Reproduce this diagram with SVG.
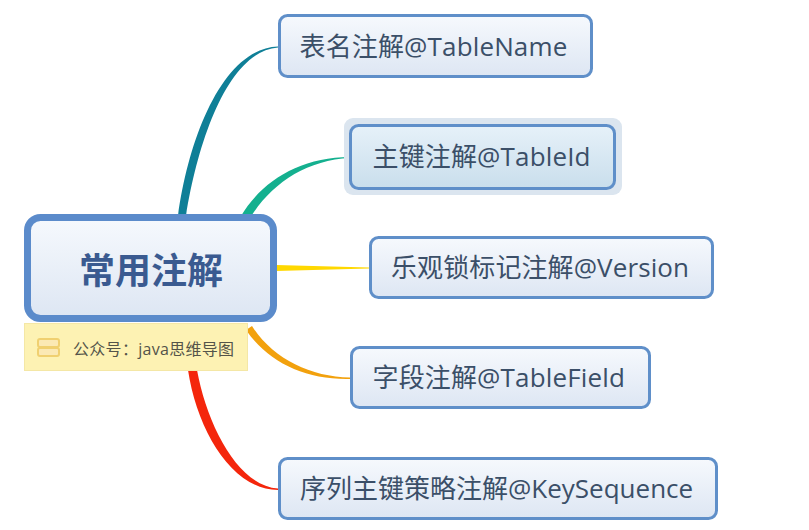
<svg xmlns="http://www.w3.org/2000/svg" width="809" height="530" viewBox="0 0 809 530">
<style>
text{font-family:"Open Sans","Noto Sans CJK SC",sans-serif}
.t{font-size:26px;fill:#3b4f68}
.n{fill:url(#g);stroke:#5f8fc9;stroke-width:3}
</style>
<defs>
<linearGradient id="g" x1="0" y1="0" x2="0" y2="1"><stop offset="0" stop-color="#f6f9fd"/><stop offset="1" stop-color="#dde6f3"/></linearGradient>
<linearGradient id="h" x1="0" y1="0" x2="0" y2="1"><stop offset="0" stop-color="#e6f1f9"/><stop offset="1" stop-color="#c9deec"/></linearGradient>
</defs>
<rect width="809" height="530" fill="#fff"/>
<g id="connectors">
<path d="M178 216C189 135 224 48 278 46.500L278 47.500C230 51 199 135 186 216Z" fill="#0f7f97"/>
<path d="M241 216C262 181 300 157 350 157L350 158C306 160 271 184 250 218Z" fill="#14b08f"/>
<path d="M276 265L369 267.500L369 268.500L276 271Z" fill="#ffd800"/>
<path d="M252 326C272 358 310 377 350 377.500L350 379C305 380 268 362 246 330Z" fill="#f2a10d"/>
<path d="M188 370C197 430 232 490 278 490L278 488.500C238 486 207 425 197 370Z" fill="#f4260c"/>
</g>
<g id="central">
<rect x="27.500" y="217.500" width="246" height="101" rx="13" fill="url(#g)" stroke="#5b8bcb" stroke-width="7"/>
<text x="151" y="284" text-anchor="middle" font-size="36" font-weight="700" fill="#3a5a90">常用注解</text>
</g>
<g id="note">
<rect x="24.500" y="323.500" width="223" height="47" fill="#fdf2b3" stroke="#f4e7a6"/>
<rect x="38" y="339" width="21" height="8" rx="2" fill="#fbe9b4" stroke="#f0d070" stroke-width="2"/>
<rect x="38" y="348" width="21" height="8" rx="2" fill="#fbe9b4" stroke="#f0d070" stroke-width="2"/>
<text x="73" y="355" font-size="16" letter-spacing=".3" fill="#54544a">公众号：java思维导图</text>
</g>
<g id="n1">
<rect class="n" x="279.500" y="15.500" width="312" height="61" rx="8"/>
<text class="t" x="299.500" y="56" letter-spacing=".15">表名注解@TableName</text>
</g>
<g id="n2">
<rect x="344" y="118" width="278" height="77" rx="9" fill="#dbe5ef"/>
<rect x="350.500" y="125.500" width="264" height="63" rx="8" fill="url(#h)" stroke="#5f8fc9" stroke-width="3"/>
<text class="t" x="372.500" y="166" letter-spacing=".15">主键注解@TableId</text>
</g>
<g id="n3">
<rect class="n" x="370.500" y="237.500" width="342" height="60" rx="8"/>
<text class="t" x="391" y="277" letter-spacing=".1">乐观锁标记注解@Version</text>
</g>
<g id="n4">
<rect class="n" x="351.500" y="347.500" width="298" height="60" rx="8"/>
<text class="t" x="372.500" y="387" letter-spacing=".15">字段注解@TableField</text>
</g>
<g id="n5">
<rect class="n" x="279.500" y="458.500" width="437" height="60" rx="8"/>
<text class="t" x="300" y="498">序列主键策略注解@KeySequence</text>
</g>
</svg>
